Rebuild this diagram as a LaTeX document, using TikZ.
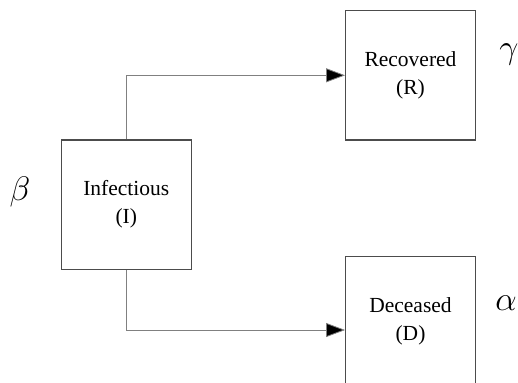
\RequirePackage{fix-cm}
\documentclass[tikz,border=0pt]{standalone}
\usepackage{fontspec}
\setmainfont{Liberation Serif}
\usetikzlibrary{arrows.meta}
\begin{document}
\begin{tikzpicture}[x=1pt,y=-1pt,
  box/.style={draw=black!70,line width=1.2pt,minimum width=129.6pt,minimum height=129.4pt,inner sep=0pt,
    align=center,font=\fontsize{21.5}{28}\selectfont},
  flow/.style={draw=black!50,line width=0.8pt,-{Triangle[length=19pt,width=14pt,fill=black]}},
  rate/.style={font=\fontsize{34}{34}\selectfont}]
\useasboundingbox (0,0) rectangle (518,382);
\clip (0,0) rectangle (518,382);
\node[box] (I) at (126.3,204.7) {Infectious\\(I)};
\node[box] (R) at (410.5,75.3) {Recovered\\(R)};
\node[box] (D) at (410.5,321.5) {Deceased\\(D)};
\coordinate (Din) at ([yshift=-8.5pt]D.west);
\draw[flow] (I.north) |- (R.west);
\draw[flow] (I.south) |- (Din);
\node[rate,line width=0.5pt] (b) at (20,192) {$\beta$};
\node[rate] (g) at (509,54) {$\gamma$};
\node[rate] (a) at (506,303) {$\alpha$};
\end{tikzpicture}
\end{document}
